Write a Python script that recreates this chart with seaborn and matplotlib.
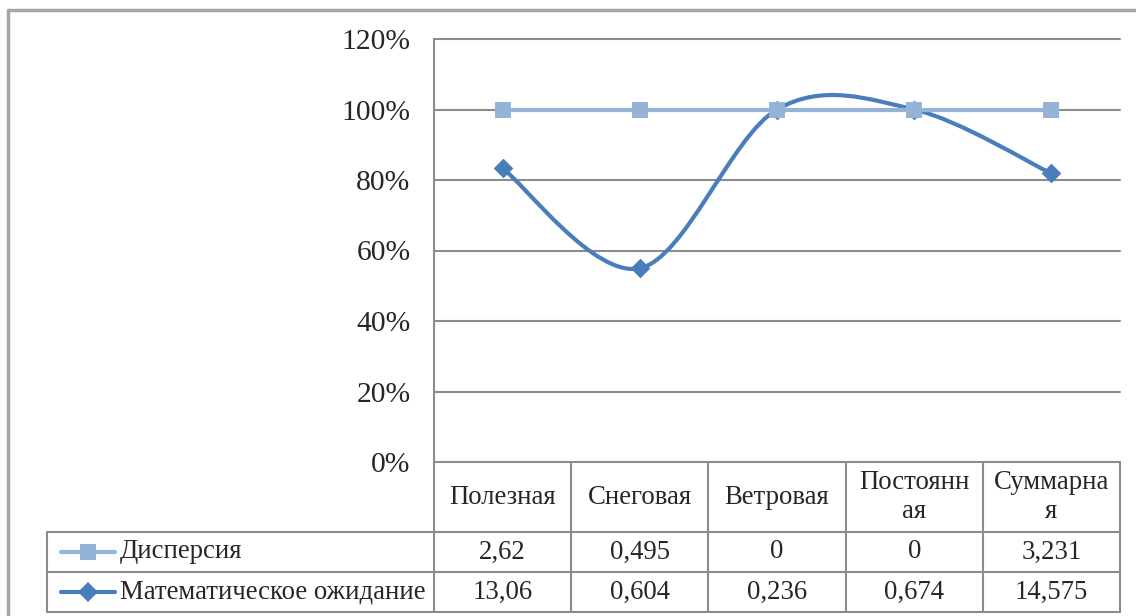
import matplotlib
matplotlib.use('Agg')
import matplotlib.pyplot as plt
from matplotlib.path import Path
from matplotlib.patches import PathPatch
from matplotlib.ticker import FuncFormatter
import seaborn as sns
import pandas as pd
import numpy as np

# данные из таблицы под графиком
categories = ['Полезная', 'Снеговая', 'Ветровая', 'Постоянная', 'Суммарная']
header_labels = ['Полезная', 'Снеговая', 'Ветровая', 'Постоянн\nая', 'Суммарна\nя']
dispersion = [2.62, 0.495, 0, 0, 3.231]
expectation = [13.06, 0.604, 0.236, 0.674, 14.575]
series_names = ['Дисперсия', 'Математическое ожидание']
y_ticks = [0, 0.2, 0.4, 0.6, 0.8, 1.0, 1.2]

light = '#95B3D7'
dark = '#4A7EBB'
grid_col = '#8C8C8C'

sns.set_style('white')
plt.rcParams['font.family'] = ['Liberation Serif', 'DejaVu Serif']

# нормированная (100%) накопительная линия, как в Excel
disp = np.array(dispersion)
expt = np.array(expectation)
share_exp = expt / (expt + disp)
share_top = (expt + disp) / (expt + disp)
x = np.arange(len(categories))
df = pd.DataFrame({'x': x, 'top': share_top, 'exp': share_exp})

W, H = 1136, 616
fig = plt.figure(figsize=(W / 100, H / 100), dpi=100)

# область построения в пикселях
L, R, T, B = 434, 1120, 39, 462
ax = fig.add_axes([L / W, (H - B) / H, (R - L) / W, (B - T) / H])
ax.set_xlim(-0.5, len(categories) - 0.5)
ax.set_ylim(0, 1.2)
ax.set_yticks(y_ticks)
ax.yaxis.set_major_formatter(FuncFormatter(lambda v, p: f'{v * 100:.0f}%'))
ax.tick_params(axis='y', labelsize=21.3, pad=17, length=0)
ax.set_xticks([])
ax.grid(axis='y', color=grid_col, lw=1.5)
for gl in ax.get_ygridlines():
    gl.set_clip_on(False)
for s in ['top', 'right', 'bottom']:
    ax.spines[s].set_visible(False)
ax.spines['left'].set_color(grid_col)
ax.spines['left'].set_linewidth(1.5)

# сглаженная линия (кривые Безье, как сглаживание в Excel)
pts = np.column_stack([x, share_exp])
ext = np.vstack([pts[0], pts, pts[-1]])
verts = [tuple(pts[0])]
codes = [Path.MOVETO]
for i in range(len(pts) - 1):
    p0, p1, p2, p3 = ext[i], ext[i + 1], ext[i + 2], ext[i + 3]
    c1 = p1 + (p2 - p0) / 6
    c2 = p2 - (p3 - p1) / 6
    verts += [tuple(c1), tuple(c2), tuple(p2)]
    codes += [Path.CURVE4] * 3
ax.add_patch(PathPatch(Path(verts, codes), fill=False, edgecolor=dark, lw=3, zorder=3,
                       capstyle='round'))
sns.scatterplot(data=df, x='x', y='exp', marker='D', s=100, color=dark,
                edgecolor=dark, linewidth=0, ax=ax, zorder=4)
sns.lineplot(data=df, x='x', y='top', color=light, lw=3, marker='s', markersize=11,
             markeredgewidth=0, ax=ax, zorder=5)
ax.set_xlabel('')
ax.set_ylabel('')

# таблица данных под графиком
ov = fig.add_axes([0, 0, 1, 1], zorder=-1)
ov.set_xlim(0, W)
ov.set_ylim(H, 0)
ov.axis('off')
tab_col = '#8C8C8C'
n = len(categories)
cw = (R - L) / n
edges = [L + i * cw for i in range(n + 1)]
row_y = [B, 532, 572, 612]
lab_left = 47
fs = 19.3

# рамка всей диаграммы
ov.plot([8, 8, W + 5], [H + 5, 10, 10], color='#A6A6A6', lw=2.5, clip_on=False)

for e in edges:
    ov.plot([e, e], [B, row_y[-1]], color=tab_col, lw=1.5)
for y in row_y[1:]:
    ov.plot([lab_left, R], [y, y], color=tab_col, lw=1.5)
ov.plot([lab_left, lab_left], [row_y[1], row_y[-1]], color=tab_col, lw=1.5)

for i, lab in enumerate(header_labels):
    ov.text(edges[i] + cw / 2, (row_y[0] + row_y[1]) / 2, lab, ha='center', va='center',
            fontsize=fs, linespacing=1.2)

rows = [(series_names[0], dispersion, light, 's', 11),
        (series_names[1], expectation, dark, 'D', 10)]
for r, (name, vals, col, mk, ms) in enumerate(rows):
    yc = (row_y[r + 1] + row_y[r + 2]) / 2
    ov.plot([61, 115], [yc, yc], color=col, lw=3)
    ov.plot([88], [yc], marker=mk, color=col, markersize=ms, markeredgewidth=0)
    ov.text(120, yc, name, ha='left', va='center', fontsize=fs)
    for i, v in enumerate(vals):
        ov.text(edges[i] + cw / 2, yc, f'{v:g}'.replace('.', ','), ha='center',
                va='center', fontsize=fs)

fig.savefig('out.png', dpi=100)
